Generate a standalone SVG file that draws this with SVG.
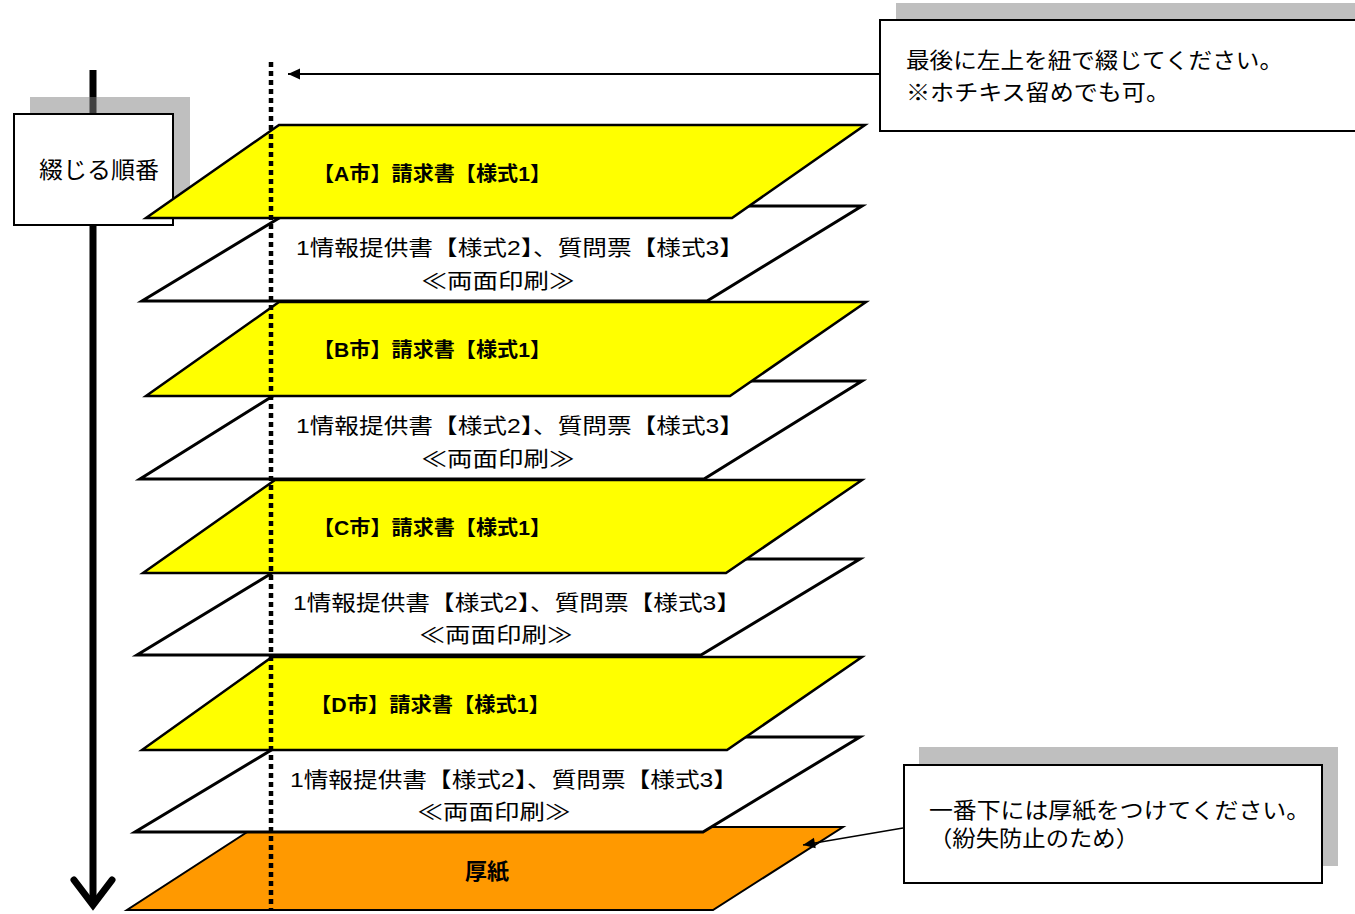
<svg xmlns="http://www.w3.org/2000/svg" width="1355" height="914" viewBox="0 0 1355 914">
<style>
.y{fill:#FFFF00;stroke:#000;stroke-width:2.5;stroke-linejoin:miter}
.w{fill:#FFFFFF;stroke:#000;stroke-width:3;stroke-linejoin:miter}
.o{fill:#FF9900;stroke:#000;stroke-width:2;stroke-linejoin:miter}
.t{font-family:"Liberation Sans","Noto Sans CJK JP",sans-serif;fill:#000}
.lt{font-size:20px;font-weight:bold}
.wt{font-size:21px}
.box{fill:#fff;stroke:#000;stroke-width:2}
.sh{fill:#808080;fill-opacity:0.5}
</style>
<defs>
<marker id="ah2" viewBox="0 0 10 10" refX="10" refY="5" markerWidth="14" markerHeight="12" orient="auto" markerUnits="userSpaceOnUse">
<path d="M0,0.5 L10,5 L0,9.5 z" fill="#000"/>
</marker>
</defs>

<g id="order-arrow">
<line x1="93" y1="70" x2="93" y2="905" stroke="#000" stroke-width="7"/>
<polyline points="74,880 93,905 112,880" fill="none" stroke="#000" stroke-width="7" stroke-linecap="round" stroke-linejoin="miter"/>
</g>

<g id="order-label">
<rect class="sh" x="30" y="97" width="160" height="112"/>
<rect class="box" x="14" y="114" width="159" height="111"/>
<text class="t" x="99" y="178" font-size="23" text-anchor="middle" textLength="120" lengthAdjust="spacingAndGlyphs">綴じる順番</text>
</g>

<g id="layer-atsugami">
<polygon class="o" points="255,827 843,827 713,910 127,910"/>
<text class="t" x="487" y="879" font-size="22" font-weight="bold" text-anchor="middle">厚紙</text>
</g>

<g id="layer-w4">
<polygon class="w" points="293,737 860,737 703,832 135,832"/>
<text class="t wt" x="514" y="787" text-anchor="middle" textLength="448" lengthAdjust="spacingAndGlyphs">1情報提供書【様式2】、質問票【様式3】</text>
<text class="t wt" x="494" y="819" text-anchor="middle" textLength="153" lengthAdjust="spacingAndGlyphs">≪両面印刷≫</text>
</g>
<g id="layer-d">
<polygon class="y" points="272,657 862,657 727,750 142,750"/>
<text class="t lt" x="310" y="712" textLength="240" lengthAdjust="spacingAndGlyphs">【D市】請求書【様式1】</text>
</g>

<g id="layer-w3">
<polygon class="w" points="295,559 860,559 701,655 137,655"/>
<text class="t wt" x="517" y="610" text-anchor="middle" textLength="448" lengthAdjust="spacingAndGlyphs">1情報提供書【様式2】、質問票【様式3】</text>
<text class="t wt" x="496" y="642" text-anchor="middle" textLength="153" lengthAdjust="spacingAndGlyphs">≪両面印刷≫</text>
</g>
<g id="layer-c">
<polygon class="y" points="275,480 862,480 726,573 143,573"/>
<text class="t lt" x="313" y="535" textLength="238" lengthAdjust="spacingAndGlyphs">【C市】請求書【様式1】</text>
</g>

<g id="layer-w2">
<polygon class="w" points="297,381 862,381 704,479 140,479"/>
<text class="t wt" x="520" y="433" text-anchor="middle" textLength="448" lengthAdjust="spacingAndGlyphs">1情報提供書【様式2】、質問票【様式3】</text>
<text class="t wt" x="498" y="466" text-anchor="middle" textLength="153" lengthAdjust="spacingAndGlyphs">≪両面印刷≫</text>
</g>
<g id="layer-b">
<polygon class="y" points="279,302 866,302 730,396 146,396"/>
<text class="t lt" x="313" y="357" textLength="238" lengthAdjust="spacingAndGlyphs">【B市】請求書【様式1】</text>
</g>

<g id="layer-w1">
<polygon class="w" points="299,206 862,206 707,301 142,301"/>
<text class="t wt" x="520" y="255" text-anchor="middle" textLength="448" lengthAdjust="spacingAndGlyphs">1情報提供書【様式2】、質問票【様式3】</text>
<text class="t wt" x="498" y="288" text-anchor="middle" textLength="153" lengthAdjust="spacingAndGlyphs">≪両面印刷≫</text>
</g>
<g id="layer-a">
<polygon class="y" points="279,125 865,125 732,218 146,218"/>
<text class="t lt" x="313" y="181" textLength="238" lengthAdjust="spacingAndGlyphs">【A市】請求書【様式1】</text>
</g>

<g id="binding-line">
<line x1="271" y1="62" x2="271" y2="910" stroke="#000" stroke-width="4.5" stroke-dasharray="5,4"/>
</g>

<g id="note-top">
<rect class="sh" x="896" y="3" width="470" height="112"/>
<rect class="box" x="880" y="20" width="480" height="111"/>
<text class="t" x="906" y="68" font-size="22" textLength="377" lengthAdjust="spacingAndGlyphs">最後に左上を紐で綴じてください。</text>
<text class="t" x="906" y="100" font-size="22" textLength="264" lengthAdjust="spacingAndGlyphs">※ホチキス留めでも可。</text>
</g>

<g id="note-bottom">
<rect class="sh" x="919" y="747" width="419" height="119"/>
<rect class="box" x="904" y="765" width="418" height="118"/>
<text class="t" x="929" y="818" font-size="22" textLength="381" lengthAdjust="spacingAndGlyphs">一番下には厚紙をつけてください。</text>
<text class="t" x="929" y="846" font-size="22" textLength="210" lengthAdjust="spacingAndGlyphs">（紛失防止のため）</text>
</g>

<g id="connectors">
<line x1="880" y1="74" x2="288" y2="74" stroke="#000" stroke-width="2" marker-end="url(#ah2)"/>
<line x1="903" y1="828" x2="803" y2="845" stroke="#000" stroke-width="1.5" marker-end="url(#ah2)"/>
</g>
</svg>
